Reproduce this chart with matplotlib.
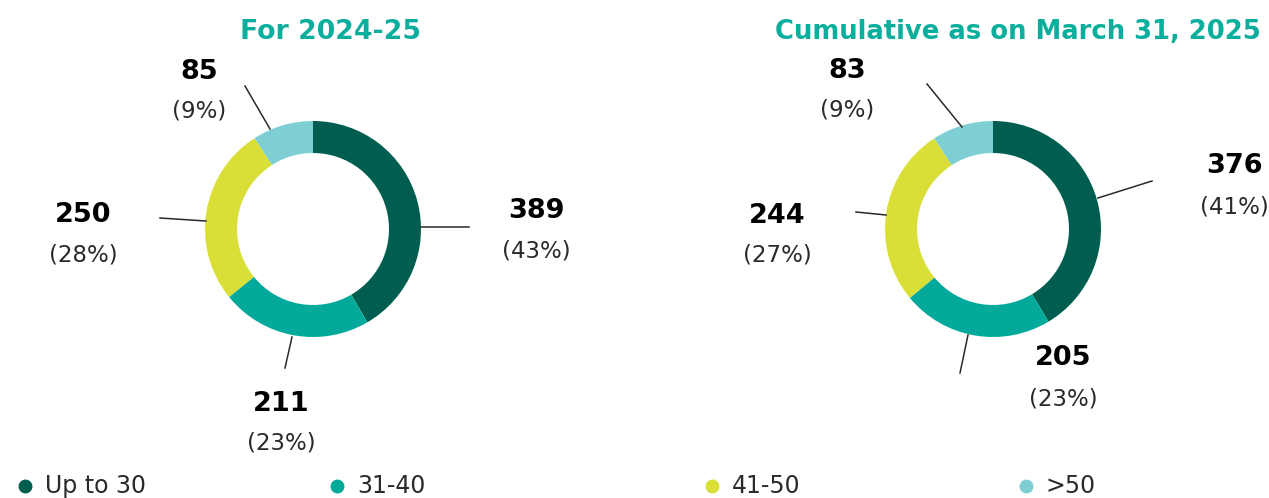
import matplotlib
matplotlib.use("Agg")
import matplotlib.pyplot as plt

# Employee age groups
categories = ["Up to 30", "31-40", "41-50", ">50"]
colors = ["#005E50", "#03AA9C", "#D9DF36", "#7ECFD4"]

year_values = [389, 211, 250, 85]
year_pcts = ["(43%)", "(23%)", "(28%)", "(9%)"]

cum_values = [376, 205, 244, 83]
cum_pcts = ["(41%)", "(23%)", "(27%)", "(9%)"]

titles = ["For 2024-25", "Cumulative as on March 31, 2025"]

W, H = 1269, 498
FONT = ["DejaVu Sans"]
TEAL = "#0AAE9C"
INK = "#2A2A2A"

fig = plt.figure(figsize=(W / 100, H / 100), dpi=100)
ax = fig.add_axes([0, 0, 1, 1])


def yy(y):
    # pixel-style y (from top) to axes y
    return H - y


def donut(cx, cy, values):
    ax.pie(values, colors=colors, startangle=90, counterclock=False,
           center=(cx, yy(cy)), radius=108,
           wedgeprops=dict(width=32, linewidth=0))


donut(313, 229, year_values)
donut(993, 229, cum_values)

# label layout: (x centre, value baseline, pct baseline, leader line)
year_layout = [
    (536, 218, 258, [(421, 227), (469, 227)]),
    (281, 411, 450, [(292, 337), (285, 368)]),
    (83, 222, 262, [(160, 218), (206, 221)]),
    (199, 79, 117, [(245, 86), (270, 129)]),
]
cum_layout = [
    (1234, 173, 213, [(1098, 198), (1152, 181)]),
    (1063, 365, 406, [(968, 335), (960, 373)]),
    (777, 223, 261, [(856, 212), (886, 215)]),
    (847, 78, 116, [(927, 84), (962, 127)]),
]


def labels(values, pcts, layout):
    for v, p, (lx, vy, py, line) in zip(values, pcts, layout):
        ax.text(lx, yy(vy), f"{v}", ha="center", va="baseline",
                fontsize=19.5, fontweight="bold", family=FONT, color="black")
        ax.text(lx, yy(py), p, ha="center", va="baseline",
                fontsize=16.5, fontweight="normal", family=FONT, color=INK)
        (x0, y0), (x1, y1) = line
        ax.plot([x0, x1], [yy(y0), yy(y1)], color=INK, lw=1.1)


labels(year_values, year_pcts, year_layout)
labels(cum_values, cum_pcts, cum_layout)

ax.text(330, yy(39), titles[0], ha="center", va="baseline", fontsize=19.3,
        fontweight="bold", family=FONT, color=TEAL)
ax.text(1018, yy(39), titles[1], ha="center", va="baseline", fontsize=18.6,
        fontweight="bold", family=FONT, color=TEAL)

# legend row
legend_x = [25, 337, 712, 1026]
for x, c, name in zip(legend_x, colors, categories):
    ax.plot([x], [yy(486)], marker="o", ms=9, color=c, mec=c)
    ax.text(x + 20, yy(493), name, ha="left", va="baseline", fontsize=17,
            fontweight="normal", family=FONT, color=INK)

ax.set_xlim(0, W)
ax.set_ylim(0, H)
ax.set_aspect("equal")
ax.axis("off")

fig.savefig("out.png", dpi=100)
